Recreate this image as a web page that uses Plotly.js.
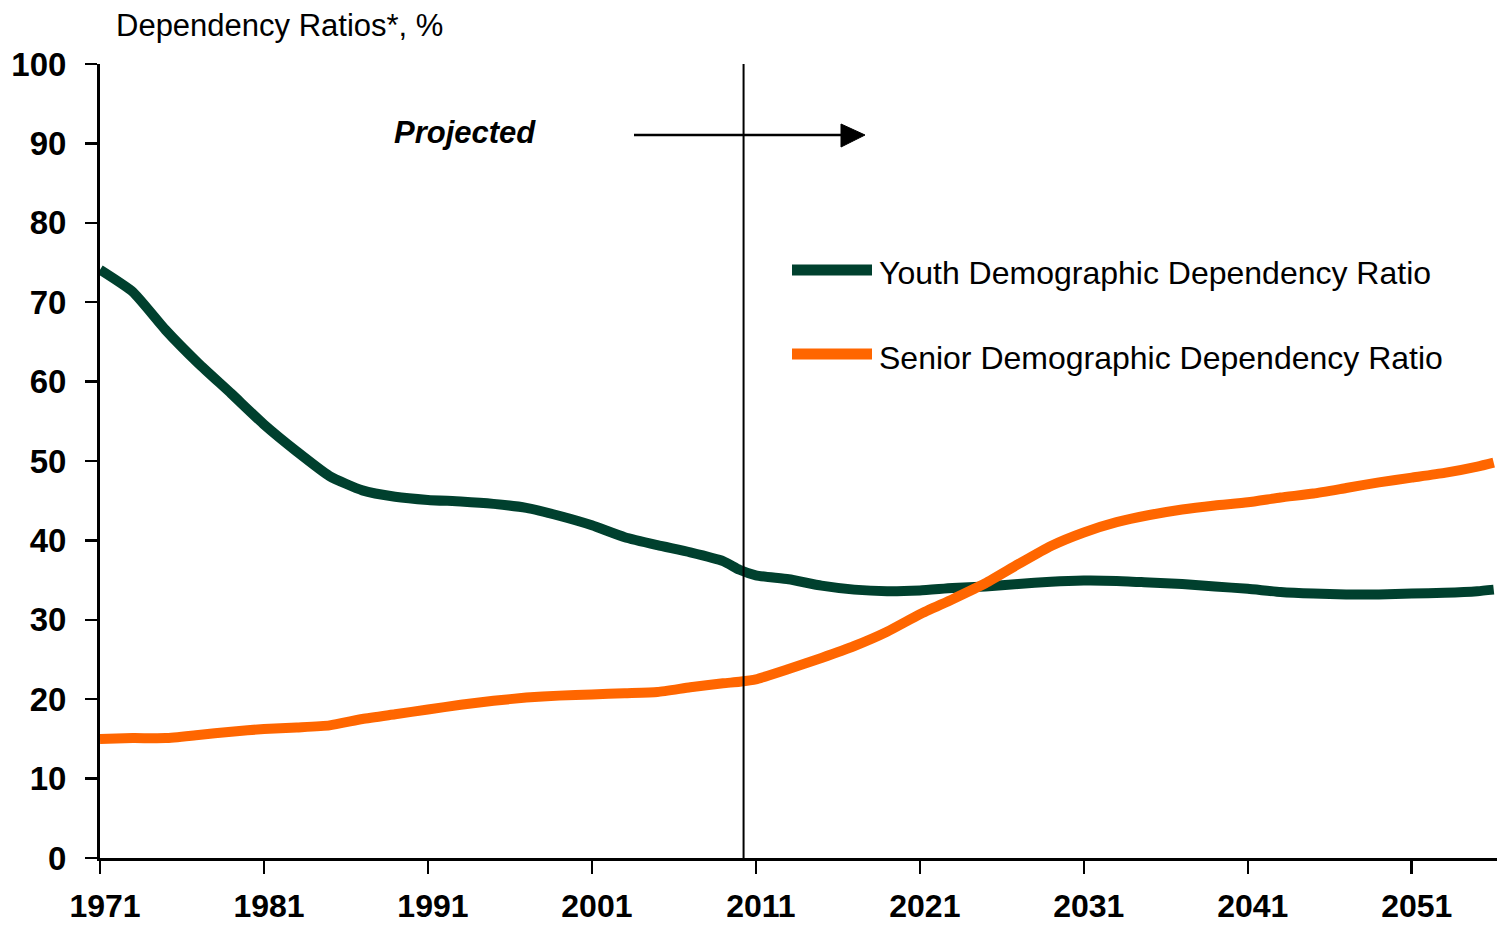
<!DOCTYPE html>
<html>
<head>
<meta charset="utf-8">
<script src="https://cdn.plot.ly/plotly-3.0.1.min.js"></script>
<style>
  html, body { margin: 0; padding: 0; background: #ffffff; }
  #chart { width: 1497px; height: 926px; }
</style>
</head>
<body>
<div id="chart"></div>
<script>
// ---- Data ----
const years = [1971, 1973, 1975, 1977, 1979, 1981, 1983, 1985, 1987, 1989,
               1991, 1993, 1995, 1997, 1999, 2001, 2003, 2005, 2007, 2009,
               2010, 2011, 2013, 2015, 2017, 2019, 2021, 2023, 2025, 2027,
               2029, 2031, 2033, 2035, 2037, 2039, 2041, 2043, 2045, 2047,
               2049, 2051, 2053, 2055, 2056];

const youthRatio = [74.1, 71.3, 66.5, 62.3, 58.5, 54.6, 51.2, 48.1, 46.3, 45.5,
                    45.1, 44.9, 44.6, 44.1, 43.1, 41.9, 40.4, 39.4, 38.5, 37.4,
                    36.3, 35.6, 35.1, 34.3, 33.8, 33.6, 33.7, 34.0, 34.2, 34.5,
                    34.8, 34.95, 34.9, 34.7, 34.5, 34.2, 33.9, 33.5, 33.3, 33.2,
                    33.2, 33.3, 33.4, 33.6, 33.8];

const seniorRatio = [15.0, 15.1, 15.1, 15.5, 15.9, 16.25, 16.45, 16.7, 17.5, 18.1,
                     18.7, 19.3, 19.8, 20.2, 20.45, 20.6, 20.75, 20.9, 21.5, 22.0,
                     22.2, 22.5, 23.8, 25.2, 26.7, 28.5, 30.7, 32.6, 34.6, 37.0,
                     39.3, 41.0, 42.3, 43.2, 43.9, 44.4, 44.8, 45.4, 45.9, 46.6,
                     47.3, 47.9, 48.5, 49.3, 49.8];

const seriesNames = ["Youth Demographic Dependency Ratio", "Senior Demographic Dependency Ratio"];
const xTickVals = [1971, 1981, 1991, 2001, 2011, 2021, 2031, 2041, 2051];
const yTickVals = [0, 10, 20, 30, 40, 50, 60, 70, 80, 90, 100];
const projectionStart = 2010.25;

// ---- Styling ----
const FONT = "Liberation Sans, Arial, Helvetica, sans-serif";
const GREEN = "#00402e";
const ORANGE = "#ff6600";

// plot area in pixels (for paper-coordinate helpers)
const W = 1497, H = 926;
const M = { l: 100, r: 0, t: 64, b: 68 };
const PW = W - M.l - M.r, PH = H - M.t - M.b;
const px = x => (x - M.l) / PW;
const py = y => (H - M.b - y) / PH;

const traces = [
  { x: years, y: youthRatio, name: seriesNames[0], type: "scatter", mode: "lines",
    line: { color: GREEN, width: 10, shape: "spline", smoothing: 0.5 }, showlegend: false, hoverinfo: "x+y" },
  { x: years, y: seniorRatio, name: seriesNames[1], type: "scatter", mode: "lines",
    line: { color: ORANGE, width: 10, shape: "spline", smoothing: 0.5 }, showlegend: false, hoverinfo: "x+y" }
];

const shapes = [
  // projection divider
  { type: "line", xref: "x", yref: "paper", x0: projectionStart, x1: projectionStart,
    y0: 0, y1: 1, line: { color: "#000", width: 2 } },
  // arrow shaft
  { type: "line", xref: "paper", yref: "paper", x0: px(634), x1: px(845),
    y0: py(135), y1: py(135), line: { color: "#000", width: 2.5 } },
  // arrow head
  { type: "path", xref: "paper", yref: "paper",
    path: `M ${px(841)} ${py(124)} L ${px(865)} ${py(135)} L ${px(841)} ${py(147)} Z`,
    fillcolor: "#000", line: { color: "#000", width: 1 } },
  // legend swatches
  { type: "line", xref: "paper", yref: "paper", x0: px(792), x1: px(872),
    y0: py(270), y1: py(270), line: { color: GREEN, width: 11 } },
  { type: "line", xref: "paper", yref: "paper", x0: px(792), x1: px(872),
    y0: py(354), y1: py(354), line: { color: ORANGE, width: 11 } }
];

const annotations = [
  { xref: "paper", yref: "paper", x: px(392), y: py(132), xanchor: "left", yanchor: "middle",
    text: "<b><i>Projected</i></b>", showarrow: false,
    font: { family: FONT, size: 31, color: "#000" } },
  { xref: "paper", yref: "paper", x: px(877), y: py(273), xanchor: "left", yanchor: "middle",
    text: seriesNames[0], showarrow: false,
    font: { family: FONT, size: 32, color: "#000" } },
  { xref: "paper", yref: "paper", x: px(877), y: py(358), xanchor: "left", yanchor: "middle",
    text: seriesNames[1], showarrow: false,
    font: { family: FONT, size: 32, color: "#000" } }
];

const layout = {
  width: W, height: H,
  margin: M,
  paper_bgcolor: "#fff", plot_bgcolor: "#fff",
  font: { family: FONT, color: "#000" },
  title: {
    text: "Dependency Ratios*, %",
    xref: "container", yref: "container",
    x: 116 / W, xanchor: "left",
    y: 1 - 25 / H, yanchor: "middle",
    font: { family: FONT, size: 31, color: "#000" }
  },
  xaxis: {
    range: [1971, 2056.2],
    tickmode: "array", tickvals: xTickVals, ticktext: xTickVals.map(String),
    ticks: "outside", ticklen: 13, tickwidth: 2.5, tickcolor: "#000",
    showline: true, linecolor: "#000", linewidth: 3,
    showgrid: false, zeroline: false,
    tickfont: { family: FONT, size: 32, color: "#000", weight: "bold" },
    ticklabelstandoff: 5,
    ticklabelshift: 5,
    fixedrange: true
  },
  yaxis: {
    range: [0, 100],
    tickmode: "array", tickvals: yTickVals, ticktext: yTickVals.map(String),
    ticks: "outside", ticklen: 12, tickwidth: 2.5, tickcolor: "#000",
    showline: true, linecolor: "#000", linewidth: 3,
    showgrid: false, zeroline: false,
    tickfont: { family: FONT, size: 33, color: "#000", weight: "bold" },
    ticklabelstandoff: 12,
    fixedrange: true
  },
  shapes: shapes,
  annotations: annotations,
  showlegend: false
};

Plotly.newPlot("chart", traces, layout, { displayModeBar: false, staticPlot: true });
</script>
</body>
</html>
